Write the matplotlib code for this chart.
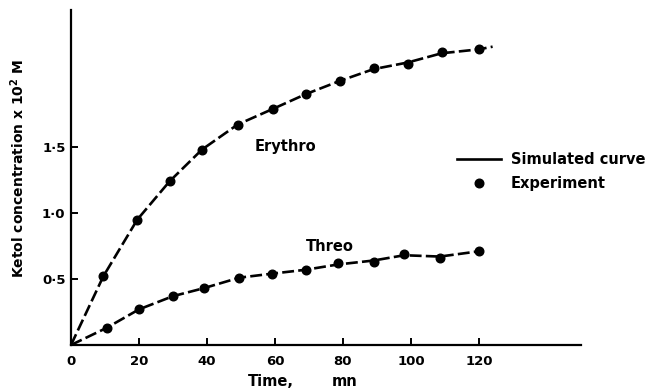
import matplotlib
matplotlib.use("Agg")
import matplotlib.pyplot as plt
from matplotlib.lines import Line2D

# ---- data ----
erythro_t = [9.5, 19.5, 29, 38.5, 49, 59.5, 69, 79, 89, 99, 109, 120]
erythro_y = [0.52, 0.95, 1.24, 1.48, 1.67, 1.79, 1.90, 2.00, 2.10, 2.13, 2.22, 2.24]
threo_t = [10.5, 20, 30, 39, 49.5, 59, 69, 78.5, 89, 98, 108.5, 120]
threo_y = [0.13, 0.27, 0.37, 0.43, 0.51, 0.54, 0.57, 0.62, 0.63, 0.69, 0.66, 0.71]

# simulated curves
erythro_curve_t = [0, 9.5, 19.5, 29, 38.5, 49, 59.5, 69, 79, 89, 99, 109, 120, 124]
erythro_curve_y = [0, 0.52, 0.95, 1.24, 1.48, 1.67, 1.79, 1.90, 2.00, 2.09, 2.14, 2.21, 2.24, 2.26]
threo_curve_t = [0, 10.5, 20, 30, 39, 49.5, 59, 69, 78.5, 89, 98, 108.5, 120, 121]
threo_curve_y = [0, 0.13, 0.27, 0.37, 0.43, 0.51, 0.54, 0.57, 0.61, 0.64, 0.68, 0.67, 0.71, 0.71]

x_ticks = [0, 20, 40, 60, 80, 100, 120]
x_ticklabels = ["0", "20", "40", "60", "80", "100", "120"]
y_ticks = [0.5, 1.0, 1.5]
y_ticklabels = ["0·5", "1·0", "1·5"]

plt.rcParams['font.family'] = ['DejaVu Sans']
plt.rcParams['font.weight'] = 'bold'

W, H = 653, 392
fig = plt.figure(figsize=(W / 100, H / 100), dpi=100)
ax = fig.add_axes([71 / W, (H - 345) / H, 510 / W, 335 / H])

dash = (4.5, 1.6)
for ct, cy in [(erythro_curve_t, erythro_curve_y), (threo_curve_t, threo_curve_y)]:
    ax.plot(ct, cy, color='black', lw=1.9, dashes=dash, dash_capstyle='butt',
            zorder=2, clip_on=False)
for t, y in [(erythro_t, erythro_y), (threo_t, threo_y)]:
    ax.plot(t, y, 'o', color='black', ms=6.2, zorder=3, clip_on=False)

ax.set_xlim(0, 150)
ax.set_ylim(0, 335 / 132)

for s in ['top', 'right']:
    ax.spines[s].set_visible(False)
for s in ['left', 'bottom']:
    ax.spines[s].set_linewidth(1.6)

ax.set_xticks(x_ticks)
ax.set_xticklabels(x_ticklabels)
ax.set_yticks(y_ticks)
ax.set_yticklabels(y_ticklabels)
ax.tick_params(axis='both', direction='in', length=5, width=1.4, labelsize=9.5)
ax.tick_params(axis='x', pad=7)
ax.tick_params(axis='y', pad=4)

fig.text(285 / W, 1 - 146 / H, "Erythro", ha='center', va='center', fontsize=10.5)
fig.text(330 / W, 1 - 247 / H, "Threo", ha='center', va='center', fontsize=10.5)

fig.text(18 / W, 1 - 168 / H, "Ketol concentration x 10$^{\\mathbf{2}}$ M", rotation=90,
         ha='center', va='center', fontsize=10)
fig.text(271 / W, 1 - 381 / H, "Time,", ha='center', va='center', fontsize=10.5)
fig.text(345 / W, 1 - 381 / H, "mn", ha='center', va='center', fontsize=10.5)

handles = [Line2D([], [], color='black', lw=1.9),
           Line2D([], [], color='black', marker='o', ls='none', ms=6.2)]
fig.legend(handles, ["Simulated curve", "Experiment"], loc='upper left',
           bbox_to_anchor=(457 / W, 1 - 152 / H), bbox_transform=fig.transFigure,
           frameon=False, fontsize=10.5, handlelength=3.0, handletextpad=0.7,
           labelspacing=0.65, borderpad=0, borderaxespad=0)

fig.savefig("out.png", dpi=100)
